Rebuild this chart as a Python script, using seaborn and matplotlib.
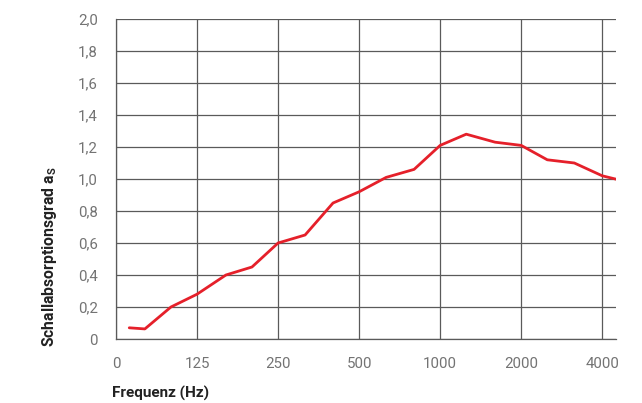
import numpy as np
import pandas as pd
import matplotlib
matplotlib.use("Agg")
import matplotlib.pyplot as plt
import seaborn as sns

# data (third-octave bands)
freq_hz = [70, 80, 100, 125, 160, 200, 250, 315, 400, 500, 630, 800,
           1000, 1250, 1600, 2000, 2500, 3150, 4000, 5000]
alpha_s = [0.07, 0.063, 0.20, 0.28, 0.40, 0.45, 0.60, 0.65, 0.85, 0.92, 1.01, 1.06,
           1.21, 1.28, 1.23, 1.21, 1.12, 1.10, 1.02, 0.98]

x_ticks = [62.5, 125, 250, 500, 1000, 2000, 4000]
x_tick_labels = ["0", "125", "250", "500", "1000", "2000", "4000"]
y_ticks = [0, 0.2, 0.4, 0.6, 0.8, 1.0, 1.2, 1.4, 1.6, 1.8, 2.0]
y_tick_labels = ["0", "0,2", "0,4", "0,6", "0,8", "1,0", "1,2", "1,4", "1,6", "1,8", "2,0"]

df = pd.DataFrame({"Frequenz": freq_hz, "alpha": alpha_s})

sns.set_theme(style="white")
plt.rcParams["font.family"] = ["Roboto", "DejaVu Sans"]

fig = plt.figure(figsize=(6.42, 4.03), dpi=100)
ax = fig.add_axes([0.1807, 0.1588, 0.7788, 0.7941])

grid_col = "#5a5a5a"
sns.lineplot(data=df, x="Frequenz", y="alpha", ax=ax, color="#e5202a",
             linewidth=2.0, zorder=3, clip_on=True)

ax.set_xscale("log", base=2)
ax.set_xlim(62.5, 62.5 * 2 ** 6.17)
ax.set_ylim(0, 2.0)
ax.set_xticks(x_ticks)
ax.set_xticklabels(x_tick_labels)
ax.xaxis.set_minor_locator(matplotlib.ticker.NullLocator())
ax.set_yticks(y_ticks)
ax.set_yticklabels(y_tick_labels)

ax.grid(True, color=grid_col, linewidth=0.9, zorder=1)
ax.tick_params(axis="both", which="major", direction="out", length=8, width=0.9,
               color=grid_col, labelcolor="#737373", labelsize=10.8, pad=5)

for side in ["top", "right"]:
    ax.spines[side].set_visible(False)
for side in ["left", "bottom"]:
    ax.spines[side].set_color(grid_col)
    ax.spines[side].set_linewidth(0.9)

ax.set_xlabel("Frequenz (Hz)", fontweight="bold", fontsize=11, color="#222222")
ax.xaxis.set_label_coords(-0.008, -0.147)
ax.xaxis.label.set_horizontalalignment("left")
ax.set_ylabel("Schallabsorptionsgrad $\\mathregular{a_S}$", fontweight="bold",
              fontsize=11.3, color="#222222")
ax.yaxis.set_label_coords(-0.115, 0.256)

plt.savefig("out.png", dpi=100)
